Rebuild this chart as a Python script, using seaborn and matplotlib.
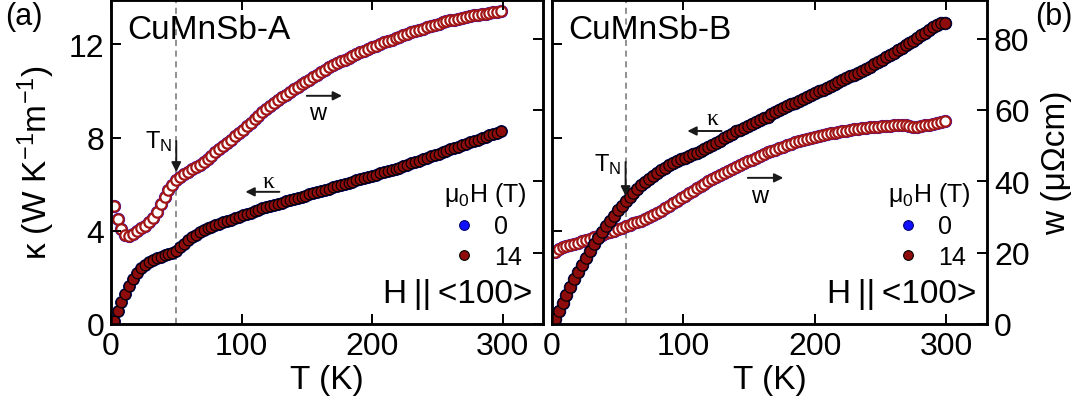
import matplotlib
matplotlib.use("Agg")
import matplotlib.pyplot as plt
import pandas as pd
import seaborn as sns
from matplotlib.lines import Line2D

# ---------------------------------------------------------------- data
# temperature grid of the sweeps (K)
T = [2, 5, 8, 11, 14, 17, 20, 23, 26, 29,
     32, 35, 38, 41, 44, 47, 50, 53, 56, 59,
     62, 65, 68, 71, 74, 77, 80, 83, 86, 89,
     92, 95, 98, 101, 104, 107, 110, 113, 116, 119,
     122, 125, 128, 131, 134, 137, 140, 143, 146, 149,
     152, 155, 158, 161, 164, 167, 170, 173, 176, 179,
     182, 185, 188, 191, 194, 197, 200, 203, 206, 209,
     212, 215, 218, 221, 224, 227, 230, 233, 236, 239,
     242, 245, 248, 251, 254, 257, 260, 263, 266, 269,
     272, 275, 278, 281, 284, 287, 290, 293, 296, 299]

# CuMnSb-A: thermal conductivity (W K^-1 m^-1) and thermal resistivity w (uOhm cm)
kappa_A = [0.15, 0.55, 0.95, 1.30, 1.65, 1.95, 2.20, 2.40, 2.55, 2.65,
           2.75, 2.82, 2.88, 2.94, 3.00, 3.06, 3.15, 3.30, 3.45, 3.60,
           3.72, 3.83, 3.93, 4.02, 4.10, 4.17, 4.24, 4.30, 4.36, 4.42,
           4.48, 4.54, 4.60, 4.66, 4.72, 4.78, 4.84, 4.90, 4.96, 5.01,
           5.06, 5.11, 5.16, 5.21, 5.26, 5.31, 5.36, 5.41, 5.46, 5.51,
           5.56, 5.61, 5.66, 5.71, 5.76, 5.81, 5.86, 5.91, 5.96, 6.01,
           6.06, 6.11, 6.16, 6.21, 6.26, 6.31, 6.36, 6.41, 6.46, 6.51,
           6.56, 6.61, 6.66, 6.71, 6.77, 6.83, 6.89, 6.95, 7.01, 7.07,
           7.13, 7.19, 7.25, 7.31, 7.37, 7.43, 7.49, 7.55, 7.61, 7.67,
           7.73, 7.79, 7.85, 7.91, 7.97, 8.03, 8.09, 8.15, 8.21, 8.28]
w_A = [33.0, 29.5, 26.5, 25.0, 24.8, 25.3, 26.0, 26.8, 27.6, 28.5,
       29.8, 31.5, 33.5, 35.6, 37.5, 39.0, 40.3, 41.2, 42.0, 42.7,
       43.3, 44.0, 44.6, 45.4, 46.3, 47.2, 48.1, 49.0, 49.9, 50.8,
       51.7, 52.6, 53.5, 54.4, 55.4, 56.4, 57.4, 58.4, 59.4, 60.3,
       61.1, 61.9, 62.7, 63.5, 64.3, 65.0, 65.8, 66.5, 67.2, 67.9,
       68.5, 69.2, 69.9, 70.5, 71.2, 71.9, 72.5, 73.1, 73.6, 74.1,
       74.6, 75.1, 75.6, 76.1, 76.6, 77.1, 77.5, 78.0, 78.4, 78.9,
       79.3, 79.7, 80.1, 80.5, 80.9, 81.3, 81.7, 82.1, 82.5, 82.8,
       83.2, 83.6, 83.9, 84.2, 84.5, 84.8, 85.1, 85.3, 85.6, 85.8,
       86.1, 86.3, 86.5, 86.7, 86.9, 87.0, 87.2, 87.3, 87.4, 87.6]

# CuMnSb-B
kappa_B = [0.20, 0.55, 0.90, 1.25, 1.60, 1.93, 2.25, 2.55, 2.85, 3.15,
           3.43, 3.70, 3.95, 4.20, 4.43, 4.65, 4.87, 5.07, 5.27, 5.45,
           5.62, 5.79, 5.95, 6.10, 6.24, 6.37, 6.49, 6.60, 6.70, 6.80,
           6.89, 6.98, 7.06, 7.14, 7.21, 7.28, 7.35, 7.42, 7.50, 7.58,
           7.67, 7.76, 7.86, 7.96, 8.06, 8.16, 8.26, 8.34, 8.42, 8.50,
           8.58, 8.66, 8.74, 8.82, 8.90, 8.99, 9.08, 9.17, 9.26, 9.34,
           9.42, 9.50, 9.58, 9.66, 9.74, 9.82, 9.90, 9.98, 10.06, 10.14,
           10.22, 10.30, 10.38, 10.46, 10.54, 10.62, 10.70, 10.78, 10.86, 10.95,
           11.04, 11.14, 11.24, 11.34, 11.44, 11.54, 11.64, 11.74, 11.85, 11.96,
           12.06, 12.16, 12.26, 12.38, 12.50, 12.62, 12.74, 12.84, 12.92, 12.90]
w_B = [20.3, 21.0, 21.5, 21.9, 22.2, 22.5, 22.8, 23.2, 23.5, 23.9,
       24.3, 24.6, 25.0, 25.4, 25.8, 26.2, 26.6, 27.0, 27.4, 27.8,
       28.2, 28.6, 29.0, 29.5, 30.0, 30.6, 31.2, 31.8, 32.5, 33.2,
       33.9, 34.6, 35.3, 36.0, 36.7, 37.4, 38.0, 38.6, 39.3, 40.0,
       40.6, 41.2, 41.8, 42.4, 43.0, 43.5, 44.0, 44.6, 45.1, 45.6,
       46.1, 46.6, 47.1, 47.6, 48.1, 48.5, 48.9, 49.3, 49.7, 50.1,
       50.5, 50.9, 51.2, 51.5, 51.8, 52.1, 52.4, 52.7, 53.0, 53.2,
       53.4, 53.6, 53.8, 54.0, 54.2, 54.4, 54.6, 54.7, 54.9, 55.0,
       55.1, 55.2, 55.3, 55.4, 55.5, 55.6, 55.7, 55.8, 55.9, 55.9,
       55.6, 55.3, 55.2, 55.4, 55.7, 55.9, 56.1, 56.4, 56.7, 56.9]

fields = ["0", "14"]          # mu0 H (T); both sweeps coincide within resolution
T_N = {"A": 50, "B": 56}      # Neel temperatures (K)

x_ticks = [0, 100, 200, 300]
kappa_ticks = [0, 4, 8, 12]
w_ticks = [0, 20, 40, 60, 80]

# ---------------------------------------------------------------- style
sns.set_theme(style="ticks")
plt.rcParams["font.family"] = ["Liberation Sans", "DejaVu Sans"]
plt.rcParams["mathtext.fontset"] = "custom"
plt.rcParams["mathtext.rm"] = "Liberation Sans"
plt.rcParams["mathtext.it"] = "Liberation Sans:italic"
plt.rcParams["mathtext.default"] = "regular"
for key in ("text.color", "axes.labelcolor", "xtick.color", "ytick.color",
            "axes.edgecolor"):
    plt.rcParams[key] = "black"

RED_FILL = "#8e0c0c"
RED_EDGE = "#a31616"
BLUE = "#1010ff"
BLUE_EDGE = "#000070"

def frame(sample):
    rows = []
    for f in fields:
        kap = kappa_A if sample == "A" else kappa_B
        ww = w_A if sample == "A" else w_B
        for t, k, w in zip(T, kap, ww):
            rows.append({"T": t, "kappa": k, "w": w, "field": f})
    return pd.DataFrame(rows)

fig = plt.figure(figsize=(10.9, 4.06), dpi=100)
pos = {"A": [111 / 1090, 1 - 325 / 406, 432 / 1090, 324 / 406],
       "B": [552 / 1090, 1 - 325 / 406, 435 / 1090, 324 / 406]}

SPINE_W = 1.8
TICK_FS = 23
ARROW = dict(arrowstyle="-|>", color="k", lw=1.4, mutation_scale=13,
             shrinkA=0, shrinkB=0)

for sample in ["A", "B"]:
    df = frame(sample)
    ax = fig.add_axes(pos[sample])
    axw = ax.twinx()
    ax.set_zorder(axw.get_zorder() + 1)
    ax.patch.set_visible(False)

    s_fill = 66 if sample == "B" else 58
    s_open = 56

    d0 = df[df.field == "0"]
    d14 = df[df.field == "14"]
    # w: open circles on the right axis
    sns.scatterplot(data=d0, x="T", y="w", ax=axw, s=s_open + 20, color=BLUE,
                    edgecolor=BLUE, linewidth=0.8, legend=False)
    sns.scatterplot(data=d14, x="T", y="w", ax=axw, s=s_open, color="white",
                    edgecolor=RED_EDGE, linewidth=1.6, legend=False)
    # kappa: filled circles on the left axis
    sns.scatterplot(data=d0, x="T", y="kappa", ax=ax, s=s_fill + 16, color=BLUE,
                    edgecolor=BLUE_EDGE, linewidth=0.6, legend=False)
    sns.scatterplot(data=d14, x="T", y="kappa", ax=ax, s=s_fill, color=RED_FILL,
                    edgecolor="black", linewidth=0.8, legend=False)

    axw.axvline(T_N[sample], color="0.45", lw=1.1, ls=(0, (4, 3)), zorder=0)

    ax.set_xlim(0, 331)
    ax.set_ylim(0, 13.9)
    axw.set_ylim(0, 90.8)
    ax.set_xticks(x_ticks)
    ax.set_yticks(kappa_ticks)
    axw.set_yticks(w_ticks)

    ax.tick_params(direction="in", length=7, width=1.4, top=True,
                   labelsize=TICK_FS, pad=5)
    axw.tick_params(direction="in", length=7, width=1.4,
                    labelsize=TICK_FS, pad=5)
    for a in (ax, axw):
        for sp in a.spines.values():
            sp.set_linewidth(SPINE_W)
            sp.set_color("black")

    ax.set_xlabel("T (K)", fontsize=24, labelpad=2)
    ax.set_ylabel("")
    axw.set_ylabel("")

    if sample == "A":
        axw.tick_params(labelright=False)
        ax.set_ylabel("κ (W K$^{-1}$m$^{-1}$)", fontsize=24, labelpad=8)
        ax.text(0.037, 0.91, "CuMnSb-A", transform=ax.transAxes, fontsize=24,
                ha="left", va="center")
        ax.annotate("", xy=(50, 6.52), xytext=(50, 7.85),
                    arrowprops=dict(ARROW, mutation_scale=14))
        ax.text(47, 7.85, "T$_N$", fontsize=17, ha="right", va="center")
        ax.annotate("", xy=(103, 5.67), xytext=(129, 5.67), arrowprops=ARROW)
        ax.text(121, 6.1, "κ", fontsize=17, family="Liberation Serif",
                ha="center", va="center")
        ax.annotate("", xy=(177, 9.79), xytext=(150, 9.79), arrowprops=ARROW)
        ax.text(158, 9.05, "w", fontsize=17, ha="center", va="center")
    else:
        ax.tick_params(labelleft=False)
        axw.set_ylabel("w (μΩcm)", fontsize=24, labelpad=8)
        ax.text(0.037, 0.91, "CuMnSb-B", transform=ax.transAxes, fontsize=24,
                ha="left", va="center")
        ax.annotate("", xy=(56, 5.49), xytext=(56, 6.95),
                    arrowprops=dict(ARROW, mutation_scale=14))
        ax.text(53, 6.9, "T$_N$", fontsize=17, ha="right", va="center")
        ax.annotate("", xy=(103, 8.28), xytext=(129, 8.28), arrowprops=ARROW)
        ax.text(122, 8.8, "κ", fontsize=17, family="Liberation Serif",
                ha="center", va="center")
        ax.annotate("", xy=(176, 6.27), xytext=(149, 6.27), arrowprops=ARROW)
        ax.text(158, 5.49, "w", fontsize=17, ha="center", va="center")

    ax.text(0.975, 0.093, "H\u2009||\u2009<100>", transform=ax.transAxes,
            fontsize=24, ha="right", va="center")

    handles = [Line2D([], [], ls="none", marker="o", markersize=7,
                      markerfacecolor=BLUE, markeredgecolor=BLUE_EDGE, markeredgewidth=0.8),
               Line2D([], [], ls="none", marker="o", markersize=7,
                      markerfacecolor=RED_FILL, markeredgecolor="black", markeredgewidth=0.8)]
    leg = ax.legend(handles, fields, title="μ$_0$H (T)", loc="upper right",
                    bbox_to_anchor=(0.985, 0.475), frameon=False, fontsize=18,
                    title_fontsize=18, handletextpad=0.6, labelspacing=0.25,
                    handlelength=1.2, borderaxespad=0)
    for t in leg.get_texts():
        t.set_ha("center")

fig.text(5 / 1090, 1 - 17 / 406, "(a)", fontsize=22, ha="left", va="center")
fig.text(1035 / 1090, 1 - 17 / 406, "(b)", fontsize=22, ha="left", va="center")

fig.savefig("out.png", dpi=100)
